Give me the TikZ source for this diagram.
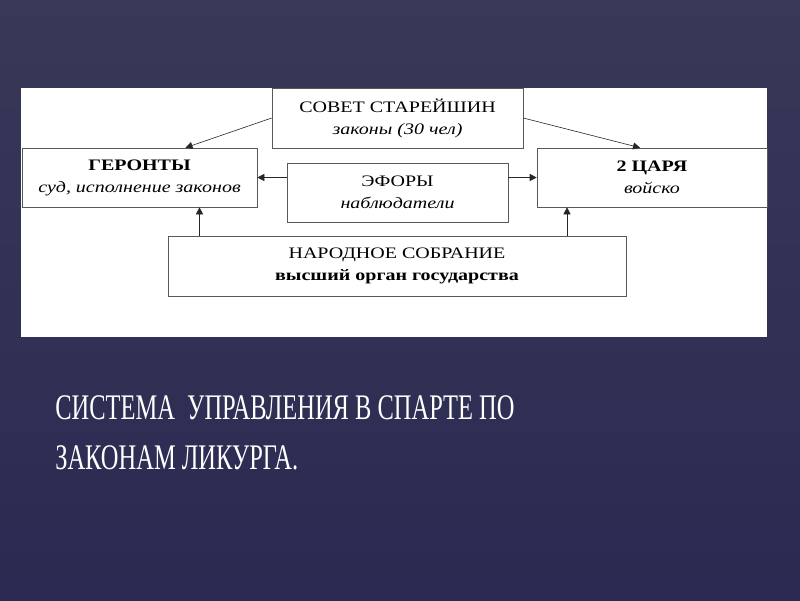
\documentclass[tikz,border=0pt]{standalone}
\usepackage{fontspec}
\setmainfont{Liberation Serif}
\newfontfamily\boxfont[FakeStretch=1.25]{Liberation Serif}
\newfontfamily\titlefont[FakeStretch=0.68]{Liberation Serif}
\usetikzlibrary{arrows.meta}

\definecolor{slidetop}{HTML}{3A3858}
\definecolor{slidebottom}{HTML}{2A2A52}

\begin{document}
\begin{tikzpicture}[x=1pt,y=-1pt,>={Triangle[length=7pt,width=7pt]},line width=0.6pt,
    box node/.style={draw=black!65,fill=white,rectangle,inner sep=0pt,align=center,
        font=\boxfont\fontsize{16}{22}\selectfont}]

    % slide and white panel
    \shade[top color=slidetop,bottom color=slidebottom,draw=none] (0,0) rectangle (800,600);
    \fill[white] (21,88) rectangle (767,337);

    \node[box node,minimum width=251pt,minimum height=60pt] (sovet) at (397.5,118)
        {СОВЕТ СТАРЕЙШИН\\\textit{законы (30 чел)}};
    \node[box node,minimum width=235pt,minimum height=59pt] (geronty) at (139.5,177.5)
        {\textbf{ГЕРОНТЫ}\\\textit{суд, исполнение законов}};
    \node[box node,minimum width=221pt,minimum height=59pt] (efory) at (397.5,192.5)
        {ЭФОРЫ\\\textit{наблюдатели}};
    \node[box node,minimum width=230pt,minimum height=59pt] (tsari) at (652,177.5)
        {\textbf{2 ЦАРЯ}\\\textit{войско}};
    \node[box node,minimum width=458pt,minimum height=60pt] (narod) at (397,266)
        {НАРОДНОЕ СОБРАНИЕ\\\textbf{высший орган государства}};

    \coordinate (gin) at ([xshift=60pt]geronty.south);
    \coordinate (tin) at ([xshift=-85pt]tsari.south);

    \path[every edge/.append style={draw=black!85,->}]
        (sovet.west) edge ([xshift=46pt]geronty.north)
        (sovet.east) edge ([xshift=-12pt]tsari.north)
        (efory.west |- geronty.east) edge (geronty.east)
        (efory.east |- tsari.west) edge (tsari.west)
        (narod.north -| gin) edge (gin)
        (narod.north -| tin) edge (tin)
        ;

    \node[anchor=base west,align=left,text=white,inner sep=0pt,
        font=\titlefont\fontsize{36}{50}\selectfont] (title) at (55,469)
        {СИСТЕМА\ \ УПРАВЛЕНИЯ В СПАРТЕ ПО\\ЗАКОНАМ ЛИКУРГА.};
\end{tikzpicture}
\end{document}
